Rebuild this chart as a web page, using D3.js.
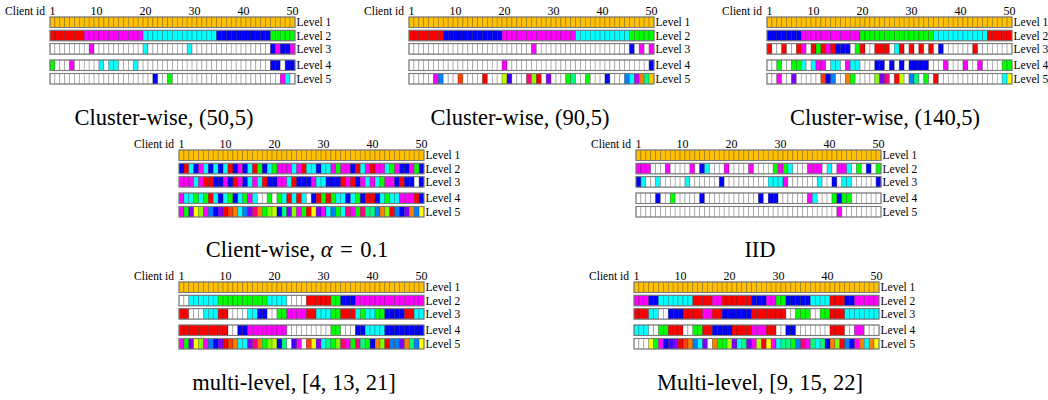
<!DOCTYPE html>
<html>
<head>
<meta charset="utf-8">
<script src="https://cdn.jsdelivr.net/npm/d3@7"></script>
<style>
  body { margin: 0; background: #fff; }
  text { font-family: "Liberation Serif", "Times New Roman", serif; fill: #000; }
</style>
</head>
<body>
<div id="chart"></div>
<script>
// cell colour codes, one string of 50 clients per level (spaces only for reading)
var clients = d3.range(1, 51);
var levels = ["Level 1", "Level 2", "Level 3", "Level 4", "Level 5"];
var tickIds = [1, 10, 20, 30, 40, 50];
var allOrange = "OOOOOOOOOO OOOOOOOOOO OOOOOOOOOO OOOOOOOOOO OOOOOOOOOO";

var cluster50 = [allOrange,
  "RRRRRRRMMM MMMMMMMMMC CCCCCCCCCC CCCCBBBBBB BBBBBGGGGG",
  "WWWWWWWWMW WWWWWWWWWC WWWWWWWWCW WWWWWWWWWW WWWWWBMBBM",
  "GWWWMWWWWW CWCCWWWCWW WWWWWWWWWW WWWWWWWWWW WWWWWBBWBB",
  "WWWWWWWWWW WWWWWWWWWW WBWWGWWWWW WWWWWWWWWW WWWWWWWMCW"];
var cluster90 = [allOrange,
  "RRRRRRRBBB BBBBBBBBBM MMMMMMMMMM MMMMCCCCCC CCCCCGGGGG",
  "WWWWWWWWWW WWWWWWWWWW WWWWWMWWWW WWWWWWWWWW WWWWWBWMWM",
  "WWWWWWWWWW WWWWWWWWWM WWWWWWWWWW WWWWWWWWWW WWWWWWWWWB",
  "WWWWWMAWWW EWWWWRWWWK IWWWPLRWVW WWGSWWGWWW BWWWACUNSD"];
var cluster140 = [allOrange,
  "BBBBBBBMMM MMMMMMMMMG GGGGGGGGGG GGGGCCCCCC CCCCCRRRRR",
  "RWWRWWRMWR GRMRBBBWGR WWRRRWCRWR WRWRWBWWWW WWRWWWWWWW",
  "WWGWWGGCWC MMWCCWMCCW WWBBWBWBWB BBBWWWMWWW MWWMWWWWGG",
  "WWMWWVWWWW WEBAWWNGWW WWLVPWRKWA SWGWRWWWWW WWWWWWWWCY"];
var clientWise = [allOrange,
  "BRCBMCBCBC RBMBCRGBCG MMMCMRCCBC CMGMMBRCMR MMCGMBBMGB",
  "MMMCMRRBBM BRMBCMCRBB MMCRBBBMCC BBBRMRBMCM CGMMBRBBWB",
  "MCCGCGRCBC GBCGMCWWGW GCRCRCWBRG RGCCBCGBRR BCGCCMMMRB",
  "MGVYLMABVR ENCAVPNGLK BSVLMGRYVM CAGCPMGPSS ANLRABVNAY"];
var iid = [allOrange,
  "MMMWWWMWWW WMWBCWWWMW WWWMWWWWGM GCWWWMMMWC WMMCWGWBWG",
  "BCWWCWWWWW CWWWWWWBWW WWWWWWWCCC MWWWWWWCWW BWCCWWWWWB",
  "WWWWBWWGWW WWWBWWWWWW WWWWWBWBBW WWWWWMCWWW GBGGWWWWWW",
  "WWWWWWWWWW WWWWWWWWWW WWWWWWWWWW WWWWWWWWWW WMWWWWWWWW"];
var multi4 = [allOrange,
  "WWCCCCCCGG GGGGGGGGCC CCWWWWRRRR RGGBBBMMMM MMMMMMMMMM",
  "RRWWWCCCRR WWWWCCBBWW GGMMMMRRCC CGGRRRCGCC GGBBBBRRCC",
  "RRRRRRRRRR WWBBMMMMMM MMWWWWWWWW WGGWWWBBCC CCBBBBBBBB",
  "MGVYLMABVR ENCCVPNGLK BSWIMWEYVC SGLPMGPSGB NLRAAVNSAY"];
var multi9 = [allOrange,
  "MMMBBCCCCC CCRRRRMMRR RRRRBBBMMG GBBBBBCCCC RRRBBMMMMM",
  "RRRCCWWBBB RRRRMMRRBB BBBBRRRRRR RWWGGGWWGG RRRCCCCCCC",
  "CCCWWGGRRR WWGGRRBBBB RRRRMMMRRW WBBWWWWWWW RRRWWMMWWW",
  "WWWYGMBIVR ENACVWNGGK VCSVMKRYMC SSGAPMSCSB NLRABMNCNY"];

var palette = {
  O: "#ffc000", W: "#ffffff", R: "#ff0000", E: "#ff4000", N: "#ff8000",
  D: "#ffcc00", Y: "#ffff00", K: "#c0ff00", L: "#80ff00", G: "#00ff00",
  S: "#00ff80", C: "#00ffff", A: "#0080ff", B: "#0000ff", I: "#4000ff",
  V: "#8000ff", U: "#c000ff", M: "#ff00ff", P: "#ff0080"
};

var panels = [
  {rows: cluster50,  x0: 50,  y0: 17,  title: [{t: "Cluster-wise, (50,5)"}], tx: 164, ty: 125},
  {rows: cluster90,  x0: 409, y0: 17,  title: [{t: "Cluster-wise, (90,5)"}], tx: 520, ty: 125},
  {rows: cluster140, x0: 767, y0: 17,  title: [{t: "Cluster-wise, (140,5)"}], tx: 885, ty: 125},
  {rows: clientWise, x0: 179, y0: 150, title: [{t: "Client-wise, "}, {t: "α", i: true}, {t: "\u2004=\u20040.1"}], tx: 297, ty: 257},
  {rows: iid,        x0: 636, y0: 150, title: [{t: "IID"}], tx: 760, ty: 257},
  {rows: multi4,     x0: 179, y0: 282, title: [{t: "multi-level, [4, 13, 21]"}], tx: 294, ty: 390},
  {rows: multi9,     x0: 634, y0: 282, title: [{t: "Multi-level, [9, 15, 22]"}], tx: 760, ty: 390}
];

var W = 1048, H = 400;
var barW = 245, rowH = 10.5;

var svg = d3.select("#chart")
            .append("svg")
            .attr("width", W)
            .attr("height", H);

var yScale = d3.scaleOrdinal()
               .domain(levels)
               .range([0, 13.3, 26.6, 43, 56.5]);

panels.forEach(function(p) {
  var xScale = d3.scaleBand()
                 .domain(clients)
                 .range([p.x0, p.x0 + barW]);

  var g = svg.append("g");

  /***Rows of cells***/
  levels.forEach(function(lev, li) {
    var codes = p.rows[li].replace(/ /g, "");
    var y = p.y0 + yScale(lev);
    var row = g.append("g");

    row.selectAll("rect.cell")
       .data(clients)
       .enter()
       .append("rect")
       .attr("class", "cell")
       .attr("x", function(d) { return xScale(d); })
       .attr("y", y)
       .attr("width", xScale.bandwidth())
       .attr("height", rowH)
       .attr("fill", function(d) { return palette[codes[d - 1]]; })
       .attr("stroke", "rgba(0,0,0,0.33)")
       .attr("stroke-width", 0.7);

    row.append("rect")
       .attr("x", p.x0)
       .attr("y", y)
       .attr("width", barW)
       .attr("height", rowH)
       .attr("fill", "none")
       .attr("stroke", "#7a7a7a")
       .attr("stroke-width", 1.1);

    row.append("text")
       .attr("x", p.x0 + barW + 1.5)
       .attr("y", y + rowH / 2 + 4)
       .style("font-size", "11.5px")
       .text(lev);
  });

  /***Client id axis***/
  var xAxis = d3.axisTop()
                .scale(xScale)
                .tickValues(tickIds)
                .tickSize(0)
                .tickPadding(2);

  var ax = g.append("g")
            .attr("transform", "translate(0," + (p.y0 - 0.5) + ")")
            .call(xAxis);
  ax.select(".domain").remove();
  ax.selectAll("text")
    .style("font-family", "Liberation Serif, serif")
    .style("font-size", "12px")
    .attr("fill", "#000");

  g.append("text")
   .attr("x", p.x0 - 5)
   .attr("y", p.y0 - 2)
   .attr("text-anchor", "end")
   .style("font-size", "11.5px")
   .text("Client id");

  /***Title***/
  var t = g.append("text")
           .attr("x", p.tx)
           .attr("y", p.ty)
           .attr("text-anchor", "middle")
           .style("font-size", "22.5px");
  t.selectAll("tspan")
   .data(p.title)
   .enter()
   .append("tspan")
   .style("font-style", function(d) { return d.i ? "italic" : null; })
   .text(function(d) { return d.t; });
});
</script>
</body>
</html>
